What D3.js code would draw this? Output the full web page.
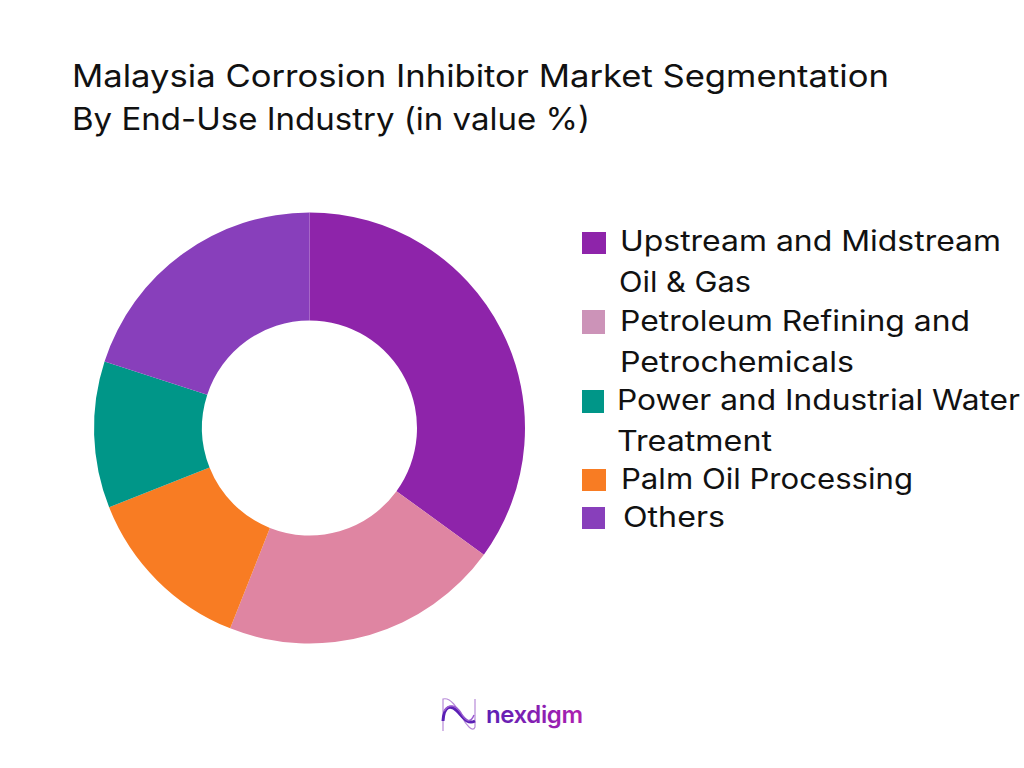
<!DOCTYPE html>
<html>
<head>
<meta charset="utf-8">
<script src="https://cdn.jsdelivr.net/npm/d3@7"></script>
<style>
html, body { margin: 0; padding: 0; background: #fff; }
text { font-family: "Inter", "Noto Sans", sans-serif; fill: #111; }
</style>
</head>
<body>
<div id="chartDiv"></div>
<script>
var titleLines = ["Malaysia Corrosion Inhibitor Market Segmentation", "By End-Use Industry (in value %)"];
var categories = ["Upstream and Midstream Oil & Gas", "Petroleum Refining and Petrochemicals", "Power and Industrial Water Treatment", "Palm Oil Processing", "Others"];
var legendLines = [["Upstream and Midstream", "Oil & Gas"], ["Petroleum Refining and", "Petrochemicals"], ["Power and Industrial Water", "Treatment"], ["Palm Oil Processing"], ["Others"]];
var values = [35, 21, 11, 13, 20];
var sliceOrder = [0, 1, 3, 2, 4];
var sliceColors = ["#8e24aa", "#df85a2", "#009688", "#f87c23", "#883fbb"];
var swatchColors = ["#8e24aa", "#cc93b8", "#009688", "#f87c23", "#883fbb"];

var width = 1024, height = 768;
var svg = d3.select("#chartDiv").append("svg").attr("width", width).attr("height", height).style("display", "block");

// title
var titleWidths = [817, 518];
svg.selectAll(".title").data(titleLines).enter().append("text")
	.attr("class", "title")
	.attr("x", 72)
	.attr("y", function(d, i) { return 87 + i * 43; })
	.attr("font-size", 31)
	.attr("font-weight", 400)
	.attr("textLength", function(d, i) { return titleWidths[i]; })
	.attr("lengthAdjust", "spacingAndGlyphs")
	.text(function(d) { return d; });

// donut, drawn clockwise from 12 o'clock
var pie = d3.pie().sort(null).value(function(d) { return values[d]; });
var arc = d3.arc().innerRadius(107.5).outerRadius(215.5);
svg.append("g").attr("transform", "translate(309.5,428)")
	.selectAll("path").data(pie(sliceOrder)).enter().append("path")
	.attr("d", arc)
	.attr("fill", function(d) { return sliceColors[d.data]; });

// legend
var swatches = [[582, 232, 24, 22], [582, 310, 23, 24], [582, 390, 22, 23], [582, 469, 24, 22], [582, 507, 23, 22]];
var lineX = [[620, 619], [620, 620], [617, 617], [621], [623]];
var lineY = [[251, 292], [331, 372], [410, 451], [489], [527]];
var lineW = [[381, 132], [350, 234], [403, 155], [292], [102]];

var legend = svg.append("g");
categories.forEach(function(c, i) {
	var s = swatches[i];
	legend.append("rect").attr("x", s[0]).attr("y", s[1]).attr("width", s[2]).attr("height", s[3]).attr("fill", swatchColors[i]);
	legendLines[i].forEach(function(l, j) {
		legend.append("text")
			.attr("x", lineX[i][j])
			.attr("y", lineY[i][j])
			.attr("font-size", 28)
			.attr("textLength", lineW[i][j])
			.attr("lengthAdjust", "spacingAndGlyphs")
			.text(l);
	});
});

// logo
var defs = svg.append("defs");
var grad = defs.append("linearGradient").attr("id", "logoGrad");
grad.append("stop").attr("offset", "0%").attr("stop-color", "#5a1fb5");
grad.append("stop").attr("offset", "100%").attr("stop-color", "#b01fb0");
var logo = svg.append("g").attr("fill", "none");
logo.append("path").attr("d", "M443 731 L443 699 C451 697 457 708 462 717 C466 725 473 733 475 727 L475 699").attr("stroke", "#b78ad8").attr("stroke-width", 1.2);
logo.append("path").attr("d", "M443 721 C444 705 451 705 457 711 C463 717 467 725 475 721").attr("stroke", "#5a1fb5").attr("stroke-width", 3);
logo.append("path").attr("d", "M444 711 C449 703 456 705 461 713 C465 720 470 725 474 715").attr("stroke", "#9a5bd0").attr("stroke-width", 1.5);
svg.append("text").attr("x", 486).attr("y", 723)
	.attr("font-size", 24).attr("font-weight", 600)
	.attr("textLength", 97).attr("lengthAdjust", "spacing")
	.style("fill", "url(#logoGrad)")
	.text("nexdigm");
</script>
</body>
</html>
